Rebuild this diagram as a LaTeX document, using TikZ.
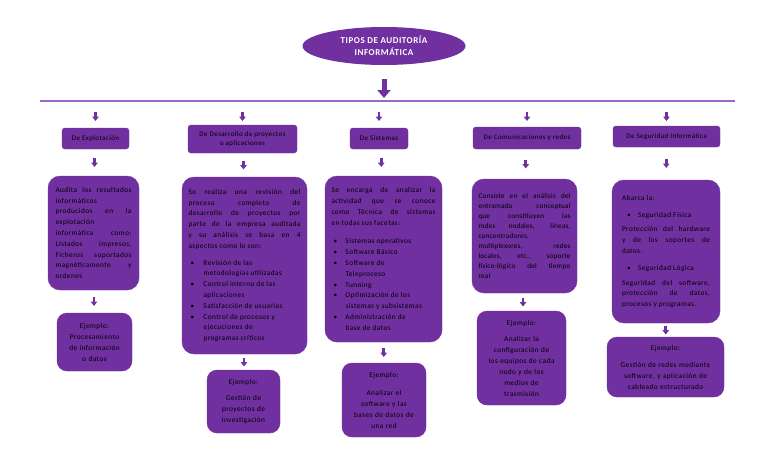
\documentclass[tikz,border=0pt]{standalone}
\usepackage{fontspec}
\setmainfont{Carlito}[LetterSpace=6]
\newfontfamily\titlefont[LetterSpace=6]{Carlito}
\newfontfamily\tightfont[LetterSpace=3]{Carlito}
\usetikzlibrary{calc,arrows.meta,shapes.geometric}
\definecolor{pur}{HTML}{7030A0}
\definecolor{lpur}{HTML}{9966CC}
\hbadness=10000 \hfuzz=4pt
\newcommand\bitem[2][15pt]{\par\hangindent=#1\hangafter=1\noindent\hspace*{2pt}\makebox[\dimexpr#1-2pt\relax][l]{\textbullet}#2\par}
\newcommand\sitem[1]{\par\noindent\hspace*{5pt}\makebox[11pt][l]{\textbullet}#1\par}
\begin{document}
\begin{tikzpicture}[x=1pt,y=-1pt,
  title/.style={ellipse, fill=pur, text=white, inner sep=0pt, align=center,
    font=\titlefont\bfseries\fontsize{9}{12}\selectfont},
  hdr/.style={fill=pur, draw=pur, rounded corners=3pt, inner sep=0pt, align=center,
    text=black, font=\fontsize{7}{9.5}\selectfont},
  body/.style={fill=pur, draw=pur, rounded corners=12pt, inner sep=0pt, align=justify,
    text=black, font=\fontsize{7.3}{10.8}\selectfont},
  expl/.style={fill=pur, draw=pur, rounded corners=10pt, inner sep=0pt, align=center,
    text=black, font=\fontsize{7.3}{11}\selectfont},
  sarrow/.style={draw=pur, line width=2.6pt, -{Triangle[width=6.5pt,length=4.5pt]},
    to path={($(\tikztostart)!0.5!(\tikztotarget)+(0,-4.5)$) -- ($(\tikztostart)!0.5!(\tikztotarget)+(0,4.5)$)}},
  sarrowplain/.style={draw=pur, line width=2.6pt, -{Triangle[width=6.5pt,length=4.5pt]}},
  bigarrow/.style={draw=pur, line width=5pt, -{Triangle[width=13pt,length=8pt]}},
  hline/.style={draw=lpur, line width=1.8pt}
]
\useasboundingbox[fill=white] (0,0) rectangle (768,466);

% title
\node[title, minimum width=163pt, minimum height=38pt] (title) at (384,46) {TIPOS DE AUDITORÍA\\INFORMÁTICA};

% horizontal line
\coordinate (L) at (40,101);
\coordinate (R) at (735,101);
\coordinate (LC) at (384,101);
\draw[hline] (L) -- (R);
\draw[bigarrow] ($(title.south)+(0,14)$) -- ($(LC)+(0,-3)$);

% headers
\node[hdr, minimum width=67pt, minimum height=21pt] (h1) at (95.5,138.5) {De Explotación};
\node[hdr, minimum width=109pt, minimum height=28pt] (h2) at (242.5,139) {De Desarrollo de proyectos\\o aplicaciones};
\node[hdr, minimum width=58pt, minimum height=21pt] (h3) at (379,138.5) {De Sistemas};
\node[hdr, minimum width=108pt, minimum height=22pt] (h4) at (527,138) {De Comunicaciones y redes};
\node[hdr, minimum width=107pt, minimum height=21pt] (h5) at (666.5,136.5) {De Seguridad Informática};

% arrows from the line
\foreach \i in {1,...,5}{
  \coordinate (l\i) at (h\i |- L);
  \draw[sarrowplain] ($(l\i)+(0,11)$) -- ($(l\i)+(0,20)$);
}

% bodies
\node[body, minimum width=91pt, minimum height=114pt, text width=76pt] (b1) at (93.5,233) {%
Audita los resultados\linebreak informáticos\newline producidos en la\linebreak explotación\newline informática como:\linebreak Listados impresos,\linebreak Ficheros soportados\linebreak magnéticamente y\linebreak ordenes};

\node[body, minimum width=125pt, minimum height=177pt, text width=112pt] (b2) at (244.5,265.5) {%
Se realiza una revisión del\linebreak proceso completo de\linebreak desarrollo de proyectos por\linebreak parte de la empresa auditada\linebreak y su análisis se basa en 4\linebreak aspectos como lo son:\par\vspace{6pt}
\bitem{Revisión de las\newline metodologías utilizadas}
\bitem{Control interno de las\newline aplicaciones}
\bitem{Satisfacción de usuarios}
\bitem{Control de procesos y\newline ejecuciones de\newline programas críticos}};

\node[body, minimum width=117pt, minimum height=166pt, text width=104pt] (b3) at (383.5,259) {%
Se encarga de analizar la\linebreak actividad que se conoce\linebreak como Técnica de sistemas\linebreak en todas sus facetas:\par\vspace{8pt}
\bitem[14pt]{Sistemas operativos}
\bitem[14pt]{Software Básico}
\bitem[14pt]{Software de\newline Teleproceso}
\bitem[14pt]{Tunning}
\bitem[14pt]{Optimización de los\newline sistemas y subsistemas}
\bitem[14pt]{Administración de\newline base de datos}};

\node[body, minimum width=105pt, minimum height=114pt, text width=92pt, font=\tightfont\fontsize{7.2}{9.9}\selectfont] (b4) at (524.5,236) {%
Consiste en el análisis del\linebreak entramado conceptual\linebreak que constituyen las\linebreak redes nodales, líneas,\linebreak concentradores,\newline multiplexores, redes\linebreak locales, etc., soporte\linebreak físico-lógico del tiempo\linebreak real};

\node[body, minimum width=108pt, minimum height=143pt, text width=88pt] (b5) at (666,251.5) {%
Abarca la:\par\vspace{6pt}
\sitem{Seguridad Física}\vspace{4pt}
Protección del hardware\linebreak y de los soportes de\linebreak datos.\par\vspace{6pt}
\sitem{Seguridad Lógica}\vspace{4pt}
Seguridad del software,\linebreak protección de datos,\linebreak procesos y programas.};

% examples
\node[expl, minimum width=75pt, minimum height=58pt, text width=70pt] (e1) at (94.5,342) {%
Ejemplo:\\Procesamiento\\de información\\o datos};
\node[expl, minimum width=73pt, minimum height=63pt, text width=68pt] (e2) at (243.5,401.5) {%
Ejemplo:\\[5pt]Gestión de\\proyectos de\\investigación};
\node[expl, minimum width=84pt, minimum height=74pt, text width=78pt] (e3) at (384,400) {%
Ejemplo:\\[7pt]Analizar el\\software y las\\bases de datos de\\una red};
\node[expl, minimum width=89pt, minimum height=94pt, text width=84pt] (e4) at (521.5,358) {%
Ejemplo:\\[5pt]Analizar la\\configuración de\\los equipos de cada\\nodo y de los\\medios de\\trasmisión};
\node[expl, minimum width=117pt, minimum height=60pt, text width=112pt] (e5) at (665.5,367) {%
Ejemplo:\\[6pt]Gestión de redes mediante\\software, y aplicación de\\cableado estructurado};

% connectors
\foreach \i in {1,...,5}{
  \draw[sarrow] (h\i.south) to (b\i.north);
  \draw[sarrow] (b\i.south) to (e\i.north);
}
\end{tikzpicture}
\end{document}
